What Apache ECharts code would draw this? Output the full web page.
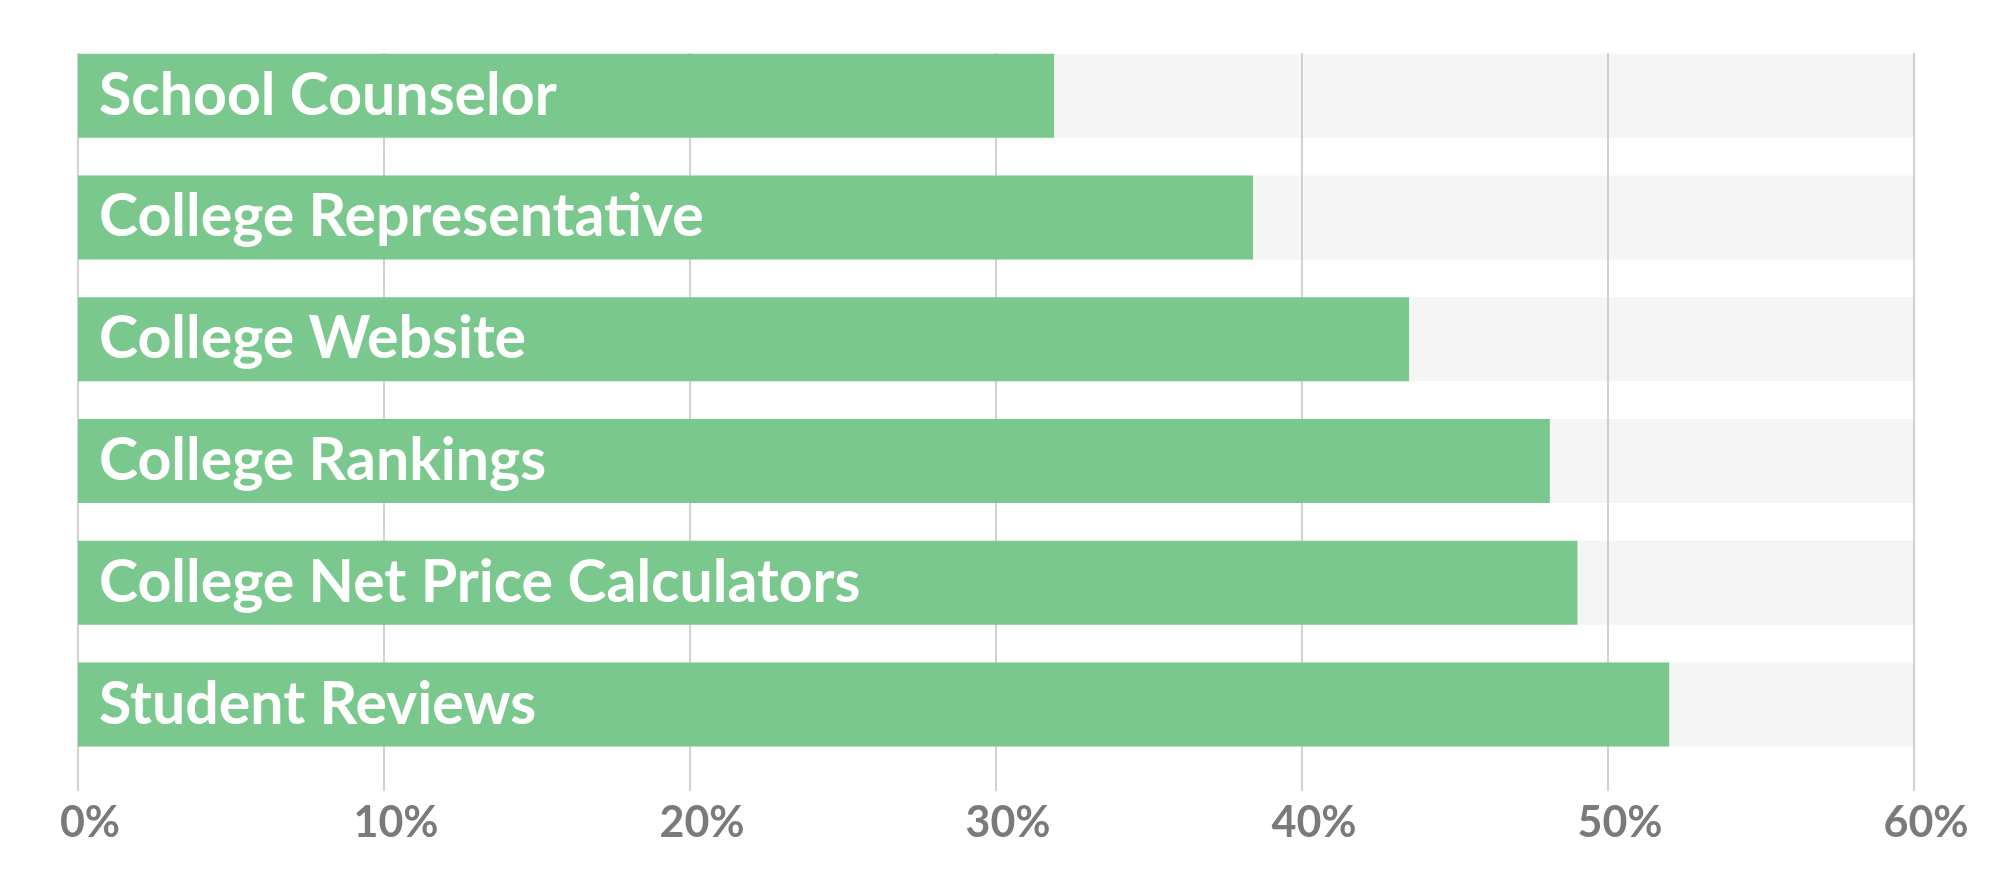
<!DOCTYPE html>
<html>
<head>
<meta charset="utf-8">
<script src="https://cdn.jsdelivr.net/npm/echarts@6/dist/echarts.min.js"></script>
<style>
html,body{margin:0;padding:0;background:#fff;}
#chart{width:2000px;height:879px;}
</style>
</head>
<body>
<div id="chart"></div>
<script>
const categories = ["School Counselor","College Representative","College Website","College Rankings","College Net Price Calculators","Student Reviews"];
const values = [31.9, 38.4, 43.5, 48.1, 49.0, 52.0];
const axisMax = 60;
const tickValues = [0, 10, 20, 30, 40, 50, 60];

const chart = echarts.init(document.getElementById('chart'));
const fullRow = categories.map(() => axisMax);

chart.setOption({
  animation: false,
  grid: [
    {left: 78, right: 86, top: 34.8, bottom: 113.6},
    {left: 78, right: 86, top: 53, bottom: 88}
  ],
  xAxis: [
    {gridIndex: 0, type: 'value', min: 0, max: axisMax, interval: 10,
     axisLine: {show: false}, axisTick: {show: false}, axisLabel: {show: false}, splitLine: {show: false}},
    {gridIndex: 1, type: 'value', min: 0, max: axisMax, interval: 10, z: 2,
     axisLine: {show: false}, axisTick: {show: false},
     splitLine: {show: true, lineStyle: {color: '#c2c2c2', width: 1.5}},
     axisLabel: {show: true, color: '#7a7a7a', fontFamily: 'Lato', fontWeight: 'bold', fontSize: 43, margin: 11,
       padding: [0, 0, 0, 24],
       formatter: v => tickValues.includes(v) ? v + '%' : ''}}
  ],
  yAxis: [
    {gridIndex: 0, type: 'category', data: categories, inverse: true,
     axisLine: {show: false}, axisTick: {show: false}, axisLabel: {show: false}, splitLine: {show: false}},
    {gridIndex: 1, type: 'category', data: categories, show: false}
  ],
  series: [
    {type: 'bar', xAxisIndex: 0, yAxisIndex: 0, data: fullRow, barWidth: 84, z: 1,
     itemStyle: {color: '#f5f5f5'}, silent: true},
    {type: 'bar', xAxisIndex: 0, yAxisIndex: 0, data: values, barWidth: 84, barGap: '-100%', z: 3,
     itemStyle: {color: '#7bc88e'},
     label: {show: true, position: 'insideLeft', distance: 21, color: '#ffffff',
       fontFamily: 'Lato', fontWeight: 'bold', fontSize: 59,
       formatter: p => categories[p.dataIndex]}}
  ]
});
</script>
</body>
</html>
